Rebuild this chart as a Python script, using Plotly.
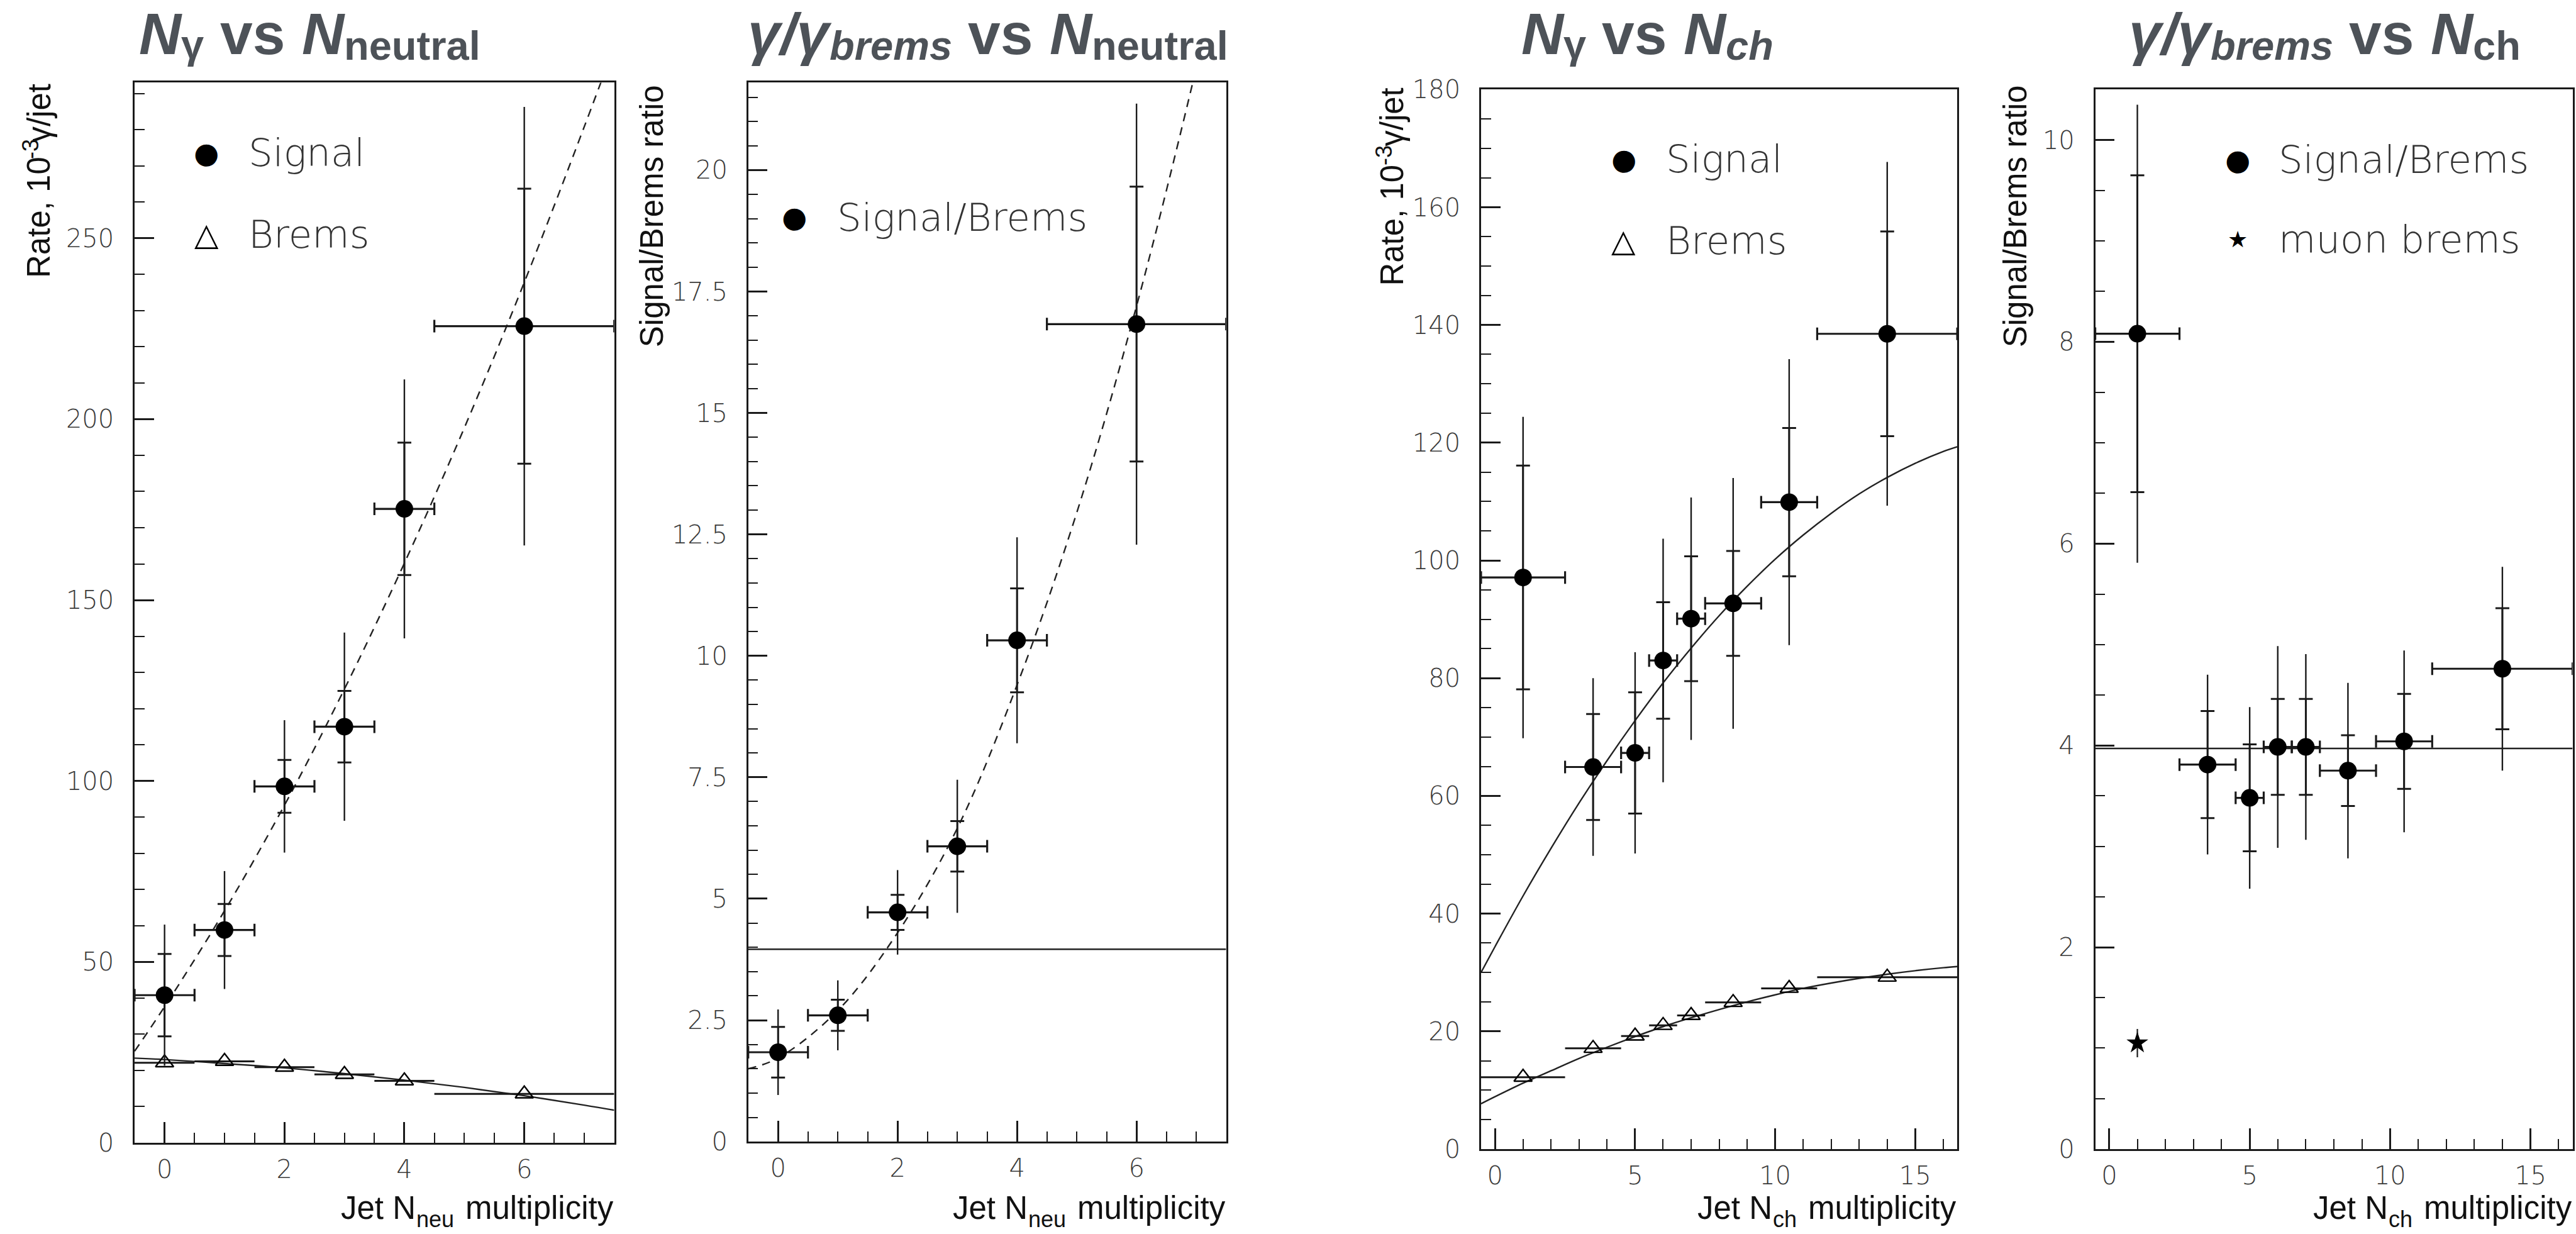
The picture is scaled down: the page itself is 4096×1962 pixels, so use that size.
import plotly.graph_objects as go

# ---------------- data ----------------
# Panel 1: N_gamma vs N_neutral
neu_x = [0, 1, 2, 3, 4, 6]
neu_xerr = [0.5, 0.5, 0.5, 0.5, 0.5, 1.5]
sig_neu = [40.8, 58.8, 98.5, 115.0, 175.2, 225.7]
sig_neu_stat = [11.4, 7.2, 7.3, 9.9, 18.3, 38.0]
sig_neu_tot = [19.5, 16.3, 18.3, 26.0, 35.8, 60.6]
brems_neu = [22.1, 22.5, 20.9, 18.9, 17.1, 13.5]
fit_neu_x = [-0.5, 0, 1, 2, 3, 4, 5, 6, 7, 7.5]
fit_sig_neu = [25.3, 37.6, 64.1, 93.3, 125.4, 160.2, 197.6, 237.8, 280.8, 303.0]
fit_brems_neu = [23.4, 23.0, 21.9, 20.7, 19.1, 17.3, 15.3, 13.0, 10.4, 9.0]

# Panel 2: gamma/gamma_brems vs N_neutral
ratio_neu = [1.84, 2.60, 4.72, 6.08, 10.32, 16.83]
ratio_neu_stat = [0.52, 0.32, 0.36, 0.52, 1.07, 2.83]
ratio_neu_tot = [0.88, 0.72, 0.87, 1.37, 2.12, 4.54]
fit_ratio_neu = [1.5, 1.72, 2.7, 4.3, 6.45, 9.4, 12.95, 17.2, 22.1, 24.8]
const_neu_x = [-0.5, 7.5]
const_neu = [3.96, 3.96]

# Panel 3: N_gamma vs N_ch
ch_x = [1, 3.5, 5, 6, 7, 8.5, 10.5, 14]
ch_xerr = [1.5, 1, 0.5, 0.5, 0.5, 1, 1, 2.5]
sig_ch = [97.1, 64.9, 67.3, 83.0, 90.1, 92.7, 109.9, 138.5]
sig_ch_stat = [19.0, 9.0, 10.3, 9.9, 10.6, 8.9, 12.6, 17.4]
sig_ch_tot = [27.3, 15.1, 17.1, 20.7, 20.6, 21.3, 24.3, 29.2]
brems_ch = [12.2, 17.1, 19.2, 21.0, 22.7, 24.9, 27.3, 29.2]
fit_ch_x = [-0.5, 0, 1, 2, 3, 4, 5, 6, 7, 8, 9, 10, 11, 12, 13, 14, 15, 16, 16.5]
fit_sig_ch = [30.0, 34.4, 43.0, 51.1, 58.8, 66.0, 72.8, 79.2, 85.1, 90.6, 95.6,
              100.2, 104.3, 108.0, 111.3, 114.1, 116.5, 118.5, 119.3]
fit_brems_ch = [7.7, 8.9, 11.2, 13.3, 15.4, 17.3, 19.1, 20.8, 22.3, 23.7, 25.0,
                26.2, 27.3, 28.2, 29.0, 29.7, 30.3, 30.8, 31.0]

# Panel 4: gamma/gamma_brems vs N_ch
ratio_ch = [8.08, 3.81, 3.48, 3.985, 3.985, 3.75, 4.04, 4.76]
ratio_ch_stat = [1.57, 0.53, 0.53, 0.475, 0.475, 0.35, 0.47, 0.60]
ratio_ch_tot = [2.27, 0.89, 0.90, 1.00, 0.92, 0.87, 0.90, 1.01]
muon_x = [1]
muon_ratio = [1.05]
muon_err = [0.14]
const_ch_x = [-0.5, 16.5]
const_ch = [3.97, 3.97]

# title pieces: (text, role, italic)
title_pieces = [
    [("N", "main", True), ("γ", "subg", False), ("vs", "main", False),
     ("N", "main", True), ("neutral", "sub", False)],
    [("γ/γ", "main", True), ("brems", "sub", True), ("vs", "main", False),
     ("N", "main", True), ("neutral", "sub", False)],
    [("N", "main", True), ("γ", "subg", False), ("vs", "main", False),
     ("N", "main", True), ("ch", "sub", True)],
    [("γ/γ", "main", True), ("brems", "sub", True), ("vs", "main", False),
     ("N", "main", True), ("ch", "sub", False)],
]
rate_label = ("Rate, 10", "-3", "γ/jet")
ratio_label = "Signal/Brems ratio"
xlabel_parts = [("Jet N", "neu", "multiplicity"), ("Jet N", "neu", "multiplicity"),
                ("Jet N", "ch", "multiplicity"), ("Jet N", "ch", "multiplicity")]
legend_labels = [["Signal", "Brems"], ["Signal/Brems"], ["Signal", "Brems"],
                 ["Signal/Brems", "muon brems"]]

# ---------------- layout helpers ----------------
W_REF, H_REF = 4517, 2164
W, H = 4096, 1962


def PX(x):
    return x / W_REF


def PY(y):
    return 1 - y / H_REF


INK = "#1a1a1a"
TITLE_COL = "#4d5258"
TICK_FONT = dict(family="DejaVu Sans, sans-serif", size=40, color="#3a3a3a", weight=300)
LEG_FONT = dict(family="DejaVu Sans, sans-serif", size=61, color="#333333", weight=300)
SANS = "Liberation Sans, Arial, sans-serif"
AX_SIZE = 51
AX_SUB = 36
T_MAIN = 93
T_SUB = 65

panels = [
    dict(x0=236, x1=1077, y0=145, y1=2004, xr=[-0.5, 7.5], yr=[0, 293],
         xd=2, xm=0.5, yd=50, ym=10),
    dict(x0=1312, x1=2150, y0=145, y1=2002, xr=[-0.5, 7.5], yr=[0, 21.8],
         xd=2, xm=0.5, yd=2.5, ym=0.5),
    dict(x0=2597, x1=3432, y0=157, y1=2015, xr=[-0.5, 16.5], yr=[0, 180],
         xd=5, xm=1, yd=20, ym=5),
    dict(x0=3674, x1=4511, y0=157, y1=2015, xr=[-0.5, 16.5], yr=[0, 10.5],
         xd=5, xm=1, yd=2, ym=0.5),
]

fig = go.Figure()
layout = dict(width=W, height=H, margin=dict(l=0, r=0, t=0, b=0, autoexpand=False),
              paper_bgcolor="white", plot_bgcolor="white", showlegend=False)

for i, p in enumerate(panels, start=1):
    sfx = "" if i == 1 else str(i)
    common = dict(showline=True, linecolor=INK, linewidth=2.5, mirror=True,
                  showgrid=False, zeroline=False, ticks="inside", tickcolor=INK,
                  tickwidth=2.5, tickfont=TICK_FONT, fixedrange=True, automargin=False)
    layout["xaxis" + sfx] = dict(common, domain=[PX(p["x0"]), PX(p["x1"])], range=p["xr"],
                                 anchor="y" + sfx, dtick=p["xd"], tick0=0, ticklen=33,
                                 minor=dict(ticks="inside", ticklen=16, tickwidth=2.2,
                                            tickcolor=INK, dtick=p["xm"]),
                                 ticklabelstandoff=5)
    layout["yaxis" + sfx] = dict(common, domain=[PY(p["y1"]), PY(p["y0"])], range=p["yr"],
                                 anchor="x" + sfx, dtick=p["yd"], tick0=0, ticklen=31,
                                 minor=dict(ticks="inside", ticklen=16, tickwidth=2.2,
                                            tickcolor=INK, dtick=p["ym"]),
                                 ticklabelstandoff=22)


def line(ax, x, y, dash="solid", width=2.4):
    sfx = "" if ax == 1 else str(ax)
    fig.add_trace(go.Scatter(x=x, y=y, mode="lines", xaxis="x" + sfx, yaxis="y" + sfx,
                             line=dict(color="#222222", width=width, dash=dash, shape="spline"),
                             hoverinfo="skip"))


def signal(ax, x, y, xerr, stat, tot):
    sfx = "" if ax == 1 else str(ax)
    fig.add_trace(go.Scatter(x=x, y=y, mode="markers", xaxis="x" + sfx, yaxis="y" + sfx,
                             marker=dict(size=1, color="rgba(0,0,0,0)"),
                             error_y=dict(type="data", array=tot, symmetric=True, width=0,
                                          thickness=2.4, color=INK)))
    fig.add_trace(go.Scatter(x=x, y=y, mode="markers", xaxis="x" + sfx, yaxis="y" + sfx,
                             marker=dict(size=28, color="black", symbol="circle"),
                             error_x=dict(type="data", array=xerr, symmetric=True, width=10,
                                          thickness=3.2, color=INK),
                             error_y=dict(type="data", array=stat, symmetric=True, width=11,
                                          thickness=3.0, color=INK)))


def brems(ax, x, y, xerr):
    sfx = "" if ax == 1 else str(ax)
    fig.add_trace(go.Scatter(x=x, y=y, mode="markers", xaxis="x" + sfx, yaxis="y" + sfx,
                             marker=dict(size=25, color="black", symbol="triangle-up-open",
                                         line=dict(color="black", width=2.4)),
                             error_x=dict(type="data", array=xerr, symmetric=True, width=0,
                                          thickness=3.0, color=INK)))


# Panel 1
line(1, fit_neu_x, fit_sig_neu, dash="13px,10px")
line(1, fit_neu_x, fit_brems_neu)
brems(1, neu_x, brems_neu, neu_xerr)
signal(1, neu_x, sig_neu, neu_xerr, sig_neu_stat, sig_neu_tot)

# Panel 2
line(2, const_neu_x, const_neu)
line(2, fit_neu_x, fit_ratio_neu, dash="13px,10px")
signal(2, neu_x, ratio_neu, neu_xerr, ratio_neu_stat, ratio_neu_tot)

# Panel 3
line(3, fit_ch_x, fit_sig_ch)
line(3, fit_ch_x, fit_brems_ch)
brems(3, ch_x, brems_ch, ch_xerr)
signal(3, ch_x, sig_ch, ch_xerr, sig_ch_stat, sig_ch_tot)

# Panel 4
line(4, const_ch_x, const_ch)
signal(4, ch_x, ratio_ch, ch_xerr, ratio_ch_stat, ratio_ch_tot)
fig.add_trace(go.Scatter(x=muon_x, y=muon_ratio, mode="markers", xaxis="x4", yaxis="y4",
                         marker=dict(size=26, color="black", symbol="star"),
                         error_y=dict(type="data", array=muon_err, symmetric=True, width=0,
                                      thickness=2.2, color=INK)))

# ---------------- annotations ----------------
ann = []


def txt(text, x, y, font, xanchor="left", yanchor="middle", angle=0):
    ann.append(dict(text=text, x=PX(x), y=PY(y), xref="paper", yref="paper",
                    xanchor=xanchor, yanchor=yanchor, textangle=angle,
                    showarrow=False, borderpad=0, font=font))


# panel titles, laid out piece by piece (reference pixels)
title_x = [[243, 317, 385, 528, 602],
           [1310, 1453, 1696, 1839, 1913],
           [2666, 2740, 2808, 2951, 3025],
           [3732, 3875, 4118, 4261, 4335]]
role_y = {"main": 60, "sub": 80, "subg": 78}
role_size = {"main": T_MAIN, "sub": T_SUB, "subg": T_SUB}
for pieces, xs in zip(title_pieces, title_x):
    for (t, role, ital), xl in zip(pieces, xs):
        txt(t, xl, role_y[role],
            dict(family=SANS, size=role_size[role], color=TITLE_COL, weight=700,
                 style="italic" if ital else "normal"))

# y-axis titles
AXF = dict(family=SANS, size=AX_SIZE, color="#111111")
AXS = dict(family=SANS, size=AX_SUB, color="#111111")
for (cx_main, cx_sup, top, bottom, sup_mid) in [(68.5, 53.5, 145, 489, 262),
                                                (2441.5, 2426.5, 152, 502, 272)]:
    txt(rate_label[0], cx_main, bottom, AXF, xanchor="center", yanchor="bottom", angle=-90)
    txt(rate_label[1], cx_sup, sup_mid, AXS, xanchor="center", yanchor="middle", angle=-90)
    txt(rate_label[2], cx_main, top, AXF, xanchor="center", yanchor="top", angle=-90)
for cx, top in [(1143, 148), (3534, 148)]:
    txt(ratio_label, cx, top, AXF, xanchor="center", yanchor="top", angle=-90)

# x-axis titles (right aligned on the frame)
for (a, b, c), p in zip(xlabel_parts, panels):
    x1 = p["x1"]
    sub_w = 66 if b == "neu" else 42
    txt(c, x1, 2118, AXF, xanchor="right")
    txt(b, x1 - 280, 2138, AXS, xanchor="right")
    txt(a, x1 - 280 - sub_w - 1, 2118, AXF, xanchor="right")

# legends (glyph + label)
GLYPH = "DejaVu Sans, sans-serif"
legend_glyphs = [[("●", 46), ("△", 50)], [("●", 46)], [("●", 46), ("△", 50)],
                 [("●", 46), ("★", 36)]]
legend_pos = [[(362, 268, 434), (362, 411, 434)],
              [(1393, 381, 1467)],
              [(2847, 279, 2920), (2847, 422, 2920)],
              [(3924, 280, 3994), (3924, 420, 3994)]]
for glyphs, labels, poss in zip(legend_glyphs, legend_labels, legend_pos):
    for (g, gs), lab, (gx, gy, lx) in zip(glyphs, labels, poss):
        txt(g, gx, gy, dict(family=GLYPH, size=gs, color="black"), xanchor="center")
        txt(lab, lx, gy, LEG_FONT)

layout["annotations"] = ann
fig.update_layout(**layout)
fig.write_html("out.html",
               post_script="document.body.style.margin='0';document.body.style.overflow='hidden';")
